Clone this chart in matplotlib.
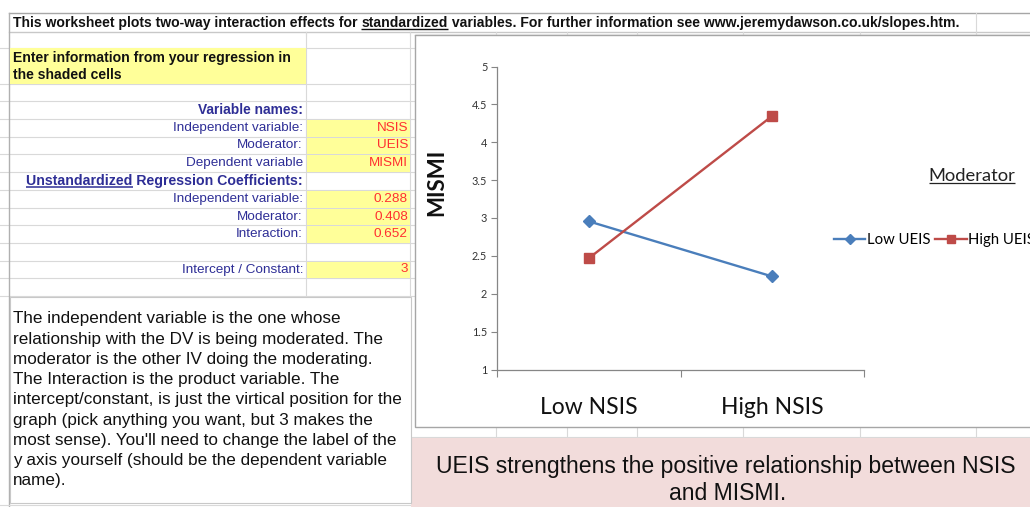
import matplotlib
matplotlib.use("Agg")
import matplotlib.pyplot as plt

W, H, DPI = 1030, 507, 100

# ---- data ----
categories = ["Low NSIS", "High NSIS"]
series_names = ["Low UEIS", "High UEIS"]
low_ueis = [2.956, 2.228]
high_ueis = [2.468, 4.348]
y_ticks = [1, 1.5, 2, 2.5, 3, 3.5, 4, 4.5, 5]
y_tick_labels = ["1", "1.5", "2", "2.5", "3", "3.5", "4", "4.5", "5"]
y_label = "MISMI"
legend_title = "Moderator"

header_parts = ["This worksheet plots two-way interaction effects for ",
                "standardized",
                " variables. For further information see www.jeremydawson.co.uk/slopes.htm."]
enter_lines = ["Enter information from your regression in", "the shaded cells"]
var_heading = "Variable names:"
var_labels = ["Independent variable:", "Moderator:", "Dependent variable"]
var_values = ["NSIS", "UEIS", "MISMI"]
coef_heading = ["Unstandardized", " Regression Coefficients:"]
coef_labels = ["Independent variable:", "Moderator:", "Interaction:"]
coef_values = ["0.288", "0.408", "0.652"]
intercept_label = "Intercept / Constant:"
intercept_value = "3"
explanation = [
    "The independent variable is the one whose",
    "relationship with the DV is being moderated. The",
    "moderator is the other IV doing the moderating.",
    "The Interaction is the product variable. The",
    "intercept/constant, is just the virtical position for the",
    "graph (pick anything you want, but 3 makes the",
    "most sense). You'll need to change the label of the",
    "y axis yourself (should be the dependent variable",
    "name).",
]
conclusion = ["UEIS strengthens the positive relationship between NSIS", "and MISMI."]

# ---- styles ----
NAVY = "#2e2e96"
RED_TXT = "#ff3030"
YELLOW = "#ffff99"
GRID = "#d9d9d9"
PINK = "#f2dcdb"
BLUE = "#4a7ebb"
RED = "#be4b48"
AXC = "#868686"
ARIAL = "Liberation Sans"
CAL = "Lato"

fig = plt.figure(figsize=(W / DPI, H / DPI), dpi=DPI)
bg = fig.add_axes([0, 0, 1, 1])
bg.set_xlim(0, W)
bg.set_ylim(H, 0)
bg.axis("off")
fig.canvas.draw()
R = fig.canvas.get_renderer()


def width_px(t):
    return t.get_window_extent(R).width


def fit(t, target):
    w = width_px(t)
    t.set_fontsize(t.get_fontsize() * target / w)
    return t


def underline(t, color, lw=0.9, below=0.11):
    bb = t.get_window_extent(R)
    _, _, descent = R.get_text_width_height_descent("lp", t.get_fontproperties(), ismath=False)
    em = t.get_fontsize() * DPI / 72.0
    yd = bb.y0 + descent - below * em
    inv = bg.transData.inverted()
    (x0, y0), (x1, y1) = inv.transform([(bb.x0, yd), (bb.x1, yd)])
    bg.plot([x0, x1], [y0, y1], color=color, lw=lw, solid_capstyle="butt", zorder=7)


def hline(y, x0, x1, c=GRID, lw=0.8):
    bg.plot([x0, x1], [y, y], color=c, lw=lw, zorder=1)


def vline(x, y0, y1, c=GRID, lw=0.8):
    bg.plot([x, x], [y0, y1], color=c, lw=lw, zorder=1)


# ---- spreadsheet grid ----
rows = [48, 84, 101, 119, 137, 154, 172, 190, 208, 225, 243, 261, 278, 296]
cols_right = [496, 567, 637, 743, 860, 976]
hline(13, 9, W, "#a6a6a6", 1.0)
hline(32, 9, W, "#c8c8c8", 1.0)
hline(34.5, 415, W, "#a6a6a6", 1.0)
for y in rows:
    hline(y, 0, 415)
vline(306, 32, 296)
vline(410, 32, 296)
vline(976, 13, 32)
for x in [306, 410] + cols_right:
    vline(x, 32, 35)
for x in cols_right:
    vline(x, 427, 437)
hline(437, 410, W)
vline(9, 13, H, "#b0b0b0", 1.0)
hline(505, 0, 410)

# yellow cells
bg.add_patch(plt.Rectangle((9.5, 48), 296.5, 36, color=YELLOW, zorder=2, lw=0))
for r0 in [119, 137, 154, 190, 208, 225, 261]:
    nxt = rows[rows.index(r0) + 1]
    bg.add_patch(plt.Rectangle((306.5, r0 + 0.5), 103, nxt - r0 - 1, color=YELLOW, zorder=2, lw=0))

# header text
tmp = bg.text(13, 23, "".join(header_parts), fontfamily=ARIAL, fontweight="bold", fontsize=10)
fit(tmp, 950)
hfs = tmp.get_fontsize()
tmp.remove()
x = 13
for i, part in enumerate(header_parts):
    t = bg.text(x, 23, part, fontfamily=ARIAL, fontweight="bold", fontsize=hfs, va="center", color="#111111", zorder=5)
    if i == 1:
        underline(t, "#111111", lw=1.0)
    x += width_px(t)

# enter info
t0 = bg.text(13, 58, enter_lines[0], fontfamily=ARIAL, fontweight="bold", fontsize=10, va="center", color="#111111", zorder=5)
fit(t0, 278)
bg.text(13, 75, enter_lines[1], fontfamily=ARIAL, fontweight="bold", fontsize=t0.get_fontsize(), va="center", color="#111111", zorder=5)

# variable names
vh = bg.text(303, 110, var_heading, fontfamily=ARIAL, fontweight="bold", fontsize=10, ha="right", va="center", color=NAVY, zorder=5)
fit(vh, 105)
tl = bg.text(303, 128, var_labels[0], fontfamily=ARIAL, fontsize=10, ha="right", va="center", color=NAVY, zorder=5)
fit(tl, 130)
lfs = tl.get_fontsize()
tl.remove()
label_rows = [128, 145.5, 163]
for lab, val, y in zip(var_labels, var_values, label_rows):
    bg.text(303, y, lab, fontfamily=ARIAL, fontsize=lfs, ha="right", va="center", color=NAVY, zorder=5)
    bg.text(408, y, val, fontfamily=ARIAL, fontsize=lfs, ha="right", va="center", color=RED_TXT, zorder=5)

# coefficient heading with underline
full = bg.text(303, 181, "".join(coef_heading), fontfamily=ARIAL, fontweight="bold", fontsize=10, ha="right", va="center", color=NAVY, zorder=5)
fit(full, 277)
bb = full.get_window_extent(R)
x0 = bg.transData.inverted().transform((bb.x0, bb.y0))[0]
u = bg.text(x0, 181, coef_heading[0], fontfamily=ARIAL, fontweight="bold", fontsize=full.get_fontsize(), ha="left", va="center", color=NAVY, zorder=5, alpha=0)
underline(u, NAVY, lw=1.1)
coef_rows = [199, 216.5, 234]
for lab, val, y in zip(coef_labels, coef_values, coef_rows):
    bg.text(303, y, lab, fontfamily=ARIAL, fontsize=lfs, ha="right", va="center", color=NAVY, zorder=5)
    bg.text(408, y, val, fontfamily=ARIAL, fontsize=lfs, ha="right", va="center", color=RED_TXT, zorder=5)
bg.text(303, 269.5, intercept_label, fontfamily=ARIAL, fontsize=lfs, ha="right", va="center", color=NAVY, zorder=5)
bg.text(408, 269.5, intercept_value, fontfamily=ARIAL, fontsize=lfs, ha="right", va="center", color=RED_TXT, zorder=5)

# explanation textbox
bg.add_patch(plt.Rectangle((10, 297), 401, 206, facecolor="white", edgecolor="#c8c8c8", lw=0.8, zorder=3))
te = bg.text(13, 319, explanation[4], fontfamily=ARIAL, fontsize=10, va="center", color="#111111", zorder=5)
fit(te, 388)
efs = te.get_fontsize()
te.remove()
for i, line in enumerate(explanation):
    bg.text(13, 319 + 20.2 * i, line, fontfamily=ARIAL, fontsize=efs, va="center", color="#111111", zorder=5)

# pink conclusion box
bg.add_patch(plt.Rectangle((411, 437.5), W - 411, H - 437, color=PINK, zorder=2, lw=0))
tc = bg.text(726, 466, conclusion[0], fontfamily=ARIAL, fontsize=12, ha="center", va="center", color="#111111", zorder=5)
fit(tc, 580)
bg.text(728, 493, conclusion[1], fontfamily=ARIAL, fontsize=tc.get_fontsize(), ha="center", va="center", color="#111111", zorder=5)

# chart area
bg.add_patch(plt.Rectangle((415, 35), W - 414, 392, facecolor="white", edgecolor="#a6a6a6", lw=1.0, zorder=3))

# y label
ty = bg.text(437, 182, y_label, fontfamily=CAL, fontweight="bold", fontsize=14, rotation=90, ha="center", va="center", color="#111111", zorder=6)
bb = ty.get_window_extent(R)
ty.set_fontsize(ty.get_fontsize() * 68 / bb.height)

# legend title
tt = bg.text(972, 176, legend_title, fontfamily=CAL, fontsize=12, ha="center", va="center", color="#222222", zorder=6)
fit(tt, 87)
underline(tt, "#222222", lw=0.9, below=0.09)

# ---- chart axes ----
left, right, top, bottom = 497, 864, 66.5, 369.5
ax = fig.add_axes([left / W, 1 - bottom / H, (right - left) / W, (bottom - top) / H])
ax.set_zorder(10)
ax.patch.set_alpha(0)
xpos = [0.5, 1.5]
l1, = ax.plot(xpos, low_ueis, color=BLUE, lw=1.7, marker="D", markersize=6, label=series_names[0])
l2, = ax.plot(xpos, high_ueis, color=RED, lw=1.7, marker="s", markersize=7, label=series_names[1])
ax.set_xlim(0, 2)
ax.set_ylim(1, 5)
ax.set_yticks(y_ticks)
ax.set_yticklabels(y_tick_labels)
ax.set_xticks([0, 1, 2])
ax.set_xticklabels([])
ax.set_xticks(xpos, minor=True)
ax.set_xticklabels(categories, minor=True)
for s in ["top", "right"]:
    ax.spines[s].set_visible(False)
for s in ["left", "bottom"]:
    ax.spines[s].set_color(AXC)
    ax.spines[s].set_linewidth(0.9)
ax.tick_params(axis="y", direction="out", length=4, width=0.8, color=AXC, labelsize=7.8, labelcolor="#333333", pad=3)
ax.tick_params(axis="x", which="major", direction="out", length=5, width=0.8, color=AXC)
ax.tick_params(axis="x", which="minor", length=0, labelsize=16.5, labelcolor="#111111", pad=20)
for lab in ax.get_yticklabels():
    lab.set_fontfamily(CAL)
for lab in ax.get_xticklabels(minor=True):
    lab.set_fontfamily(CAL)

leg = fig.legend(handles=[l1, l2], loc="center left", bbox_to_anchor=(834 / W, 1 - 240 / H),
                 ncol=2, frameon=False, prop={"family": CAL, "size": 10.7}, handlelength=2.1,
                 handletextpad=0.1, columnspacing=0.35, markerscale=0.8, borderaxespad=0, borderpad=0)
leg.set_zorder(12)

fig.savefig("out.png", dpi=DPI)
